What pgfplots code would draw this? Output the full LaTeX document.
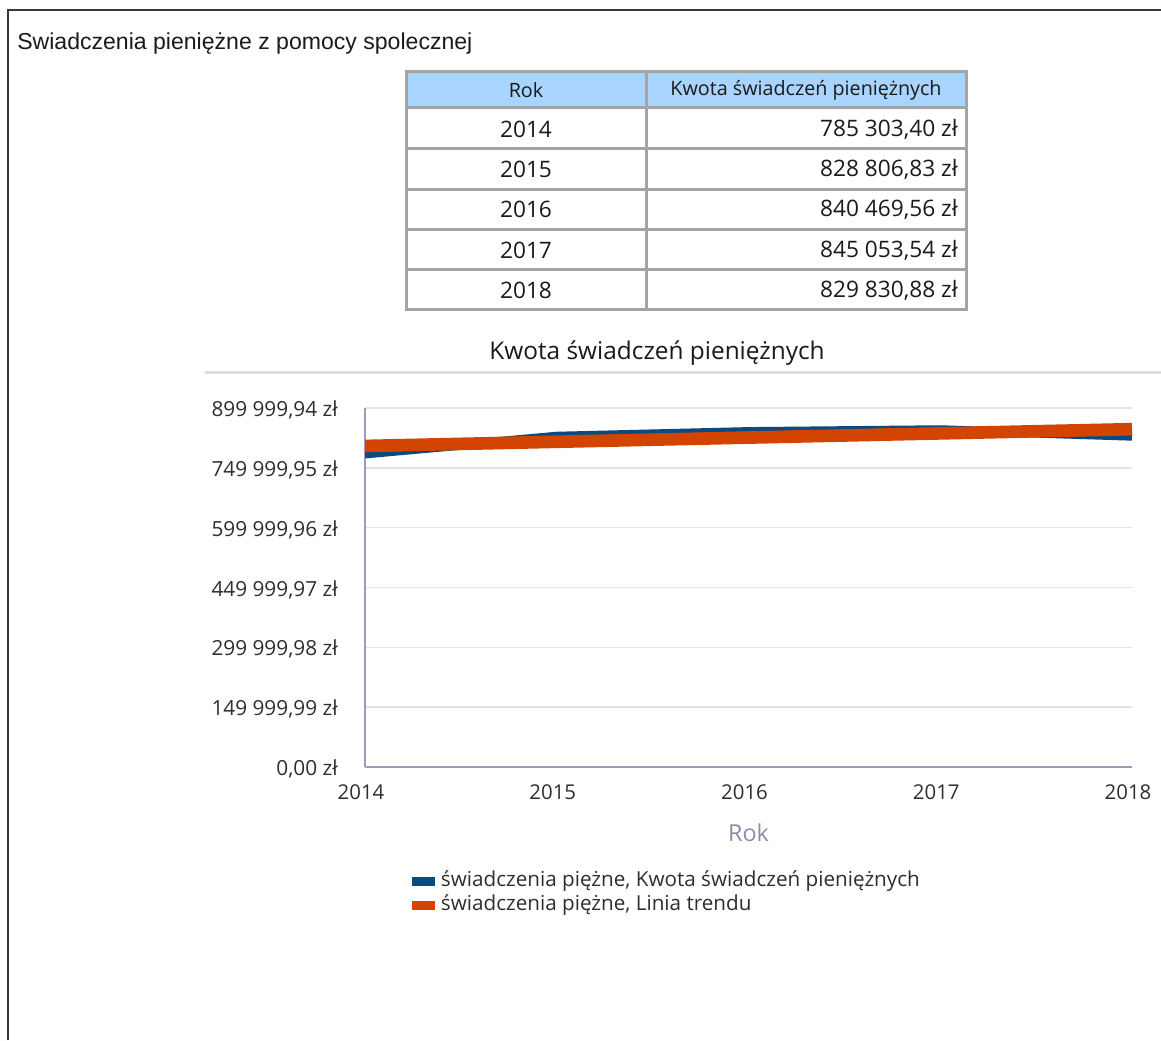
\documentclass[border=0pt]{standalone}
\usepackage{fontspec}
\setmainfont{Open Sans}
\newfontfamily\titlefont{Liberation Sans}
\usepackage{pgfplots}
\pgfplotsset{compat=1.18}
\definecolor{sblue}{HTML}{0B4A80}
\definecolor{sorange}{HTML}{D24400}
\definecolor{headblue}{HTML}{A8D4FF}
\definecolor{tablegray}{HTML}{A4A4A4}
\definecolor{framecol}{HTML}{3A3A3A}
\definecolor{txt}{HTML}{1A1A1A}
\definecolor{gridcol}{HTML}{E2E2EA}
\definecolor{axiscol}{HTML}{9C9CBA}
\definecolor{sepcol}{HTML}{DADCE6}
\definecolor{rokcol}{HTML}{8C8CA6}
\definecolor{tickcol}{HTML}{2E2E2E}
\tikzset{cell/.style={font=\fontsize{17}{17}\selectfont,text=txt,inner sep=0pt}}
\begin{document}
\begin{tikzpicture}
\begin{scope}[x=0.75pt,y=-0.75pt]
\useasboundingbox (0,0) rectangle (1161,1040);
\draw[framecol,line width=0.9pt] (8,1040) -- (8,10) -- (1161,10);
\node[anchor=base west,font=\titlefont\fontsize{17.3}{20}\selectfont,text=txt,inner sep=0pt] at (17,49) {Swiadczenia pieniężne z pomocy spolecznej};
% table
\fill[headblue] (406,71) rectangle (966,107);
\foreach \yy in {107,148,189,229,269} \draw[tablegray,line width=2.25pt] (406,\yy) -- (966,\yy);
\draw[tablegray,line width=2.25pt] (646,71) -- (646,309);
\draw[tablegray,line width=2.25pt] (406,71) rectangle (966,309);
\node[font=\fontsize{14.8}{15}\selectfont,text=txt,inner sep=0pt] at (526,90) {Rok};
\node[font=\fontsize{14.8}{15}\selectfont,text=txt,inner sep=0pt] at (806,90) {Kwota świadczeń pieniężnych};
\node[cell] at (526,129) {2014};
\node[cell] at (526,169) {2015};
\node[cell] at (526,209) {2016};
\node[cell] at (526,250) {2017};
\node[cell] at (526,290) {2018};
\node[cell,anchor=east] at (958,129) {785 303,40 zł};
\node[cell,anchor=east] at (958,169) {828 806,83 zł};
\node[cell,anchor=east] at (958,209) {840 469,56 zł};
\node[cell,anchor=east] at (958,250) {845 053,54 zł};
\node[cell,anchor=east] at (958,290) {829 830,88 zł};
% chart title
\node[anchor=base,font=\fontsize{18.3}{19}\selectfont,text=txt,inner sep=0pt] at (657,359) {Kwota świadczeń pieniężnych};
\draw[sepcol,line width=2.25pt] (205,372) -- (1161,372);
\end{scope}
\begin{axis}[
  at={(273.75pt,-575.25pt)}, anchor=south west,
  width=575.25pt, height=269.25pt, scale only axis,
  xmin=2014, xmax=2018, ymin=0, ymax=899999.94,
  axis x line*=bottom, axis y line*=left,
  axis line style={draw=axiscol, line width=1.1pt},
  ymajorgrids, grid style={draw=gridcol, line width=1.1pt},
  major tick length=0pt, tick style={draw=none},
  xtick={2014,2015,2016,2017,2018},
  xticklabels={2014,2015,2016,2017,2018},
  ytick={0,149999.99,299999.98,449999.97,599999.96,749999.95,899999.94},
  yticklabels={{0,00 zł},{149 999,99 zł},{299 999,98 zł},{449 999,97 zł},{599 999,96 zł},{749 999,95 zł},{899 999,94 zł}},
  scaled y ticks=false,
  yticklabel style={font=\fontsize{15.6}{16}\selectfont, text=tickcol, inner sep=0pt, xshift=-20.25pt, yshift=-1.5pt},
  xticklabel style={font=\fontsize{15.3}{16}\selectfont, text=tickcol, inner sep=0pt, yshift=-13pt, xshift=-3pt},
  xlabel={Rok},
  xlabel style={at={(axis description cs:0.5,0)}, anchor=center, yshift=-49.5pt, font=\fontsize{17.5}{18}\selectfont, text=rokcol, inner sep=0pt},
  legend style={at={(axis description cs:0.0613,-0.2897)}, anchor=north west, draw=none, fill=none, inner sep=0pt,
    font=\fontsize{15.5}{18}\selectfont, text=tickcol, row sep=2.5pt, column sep=4.5pt,
    nodes={inner sep=0pt, text height=11.5pt, text depth=4pt}},
  legend cell align=left,
  legend image code/.code={\fill[#1,draw=none] (0pt,-3.4pt) rectangle (17pt,3.4pt);},
]
\addplot[sblue, line width=7pt, line join=round] coordinates {(2014,785303.40) (2015,828806.83) (2016,840469.56) (2017,845053.54) (2018,829830.88)};
\addlegendentry{świadczenia piężne, Kwota świadczeń pieniężnych}
\addplot[sorange, line width=9.5pt] coordinates {(2014,804832.51) (2018,846953.18)};
\addlegendentry{świadczenia piężne, Linia trendu}
\end{axis}
\end{tikzpicture}
\end{document}
